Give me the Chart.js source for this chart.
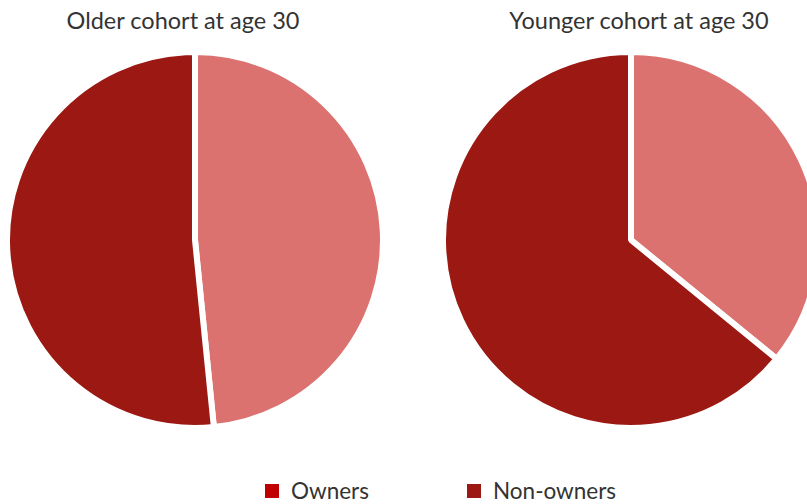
<!DOCTYPE html>
<html>
<head>
<meta charset="utf-8">
<script src="https://cdn.jsdelivr.net/npm/chart.js@4.4.1/dist/chart.umd.min.js"></script>
<style>
  html, body { margin: 0; padding: 0; background: #fff; overflow: hidden; }
  body { width: 807px; height: 504px; position: relative; font-family: Lato, "Open Sans", sans-serif; color: #333; }
  .title { position: absolute; top: 6px; font-size: 23.5px; white-space: nowrap; transform: translateX(-50%); }
  canvas { position: absolute; top: 50px; }
  #legend { position: absolute; top: 477px; left: 0; font-size: 22.5px; color: #333; }
  .item { position: absolute; white-space: nowrap; }
  .box { display: inline-block; width: 14px; height: 14px; margin-right: 12px; vertical-align: 1px; }
</style>
</head>
<body>
<div class="title" id="t1" style="left:183px"></div>
<div class="title" id="t2" style="left:639px"></div>
<canvas id="pieLeft" width="380" height="380" style="left:5px"></canvas>
<canvas id="pieRight" width="380" height="380" style="left:441px"></canvas>
<div id="legend"></div>
<script>
// categories and values (shares, %)
const categories = ['Owners', 'Non-owners'];
const chartTitles = ['Older cohort at age 30', 'Younger cohort at age 30'];
const olderValues = [48.4, 51.6];
const youngerValues = [35.9, 64.1];

const sliceColors = ['#db7270', '#9b1813'];
const legendColors = ['#c00000', '#9b1813'];
const legendX = [265, 467];

document.getElementById('t1').textContent = chartTitles[0];
document.getElementById('t2').textContent = chartTitles[1];

function makePie(id, values) {
  return new Chart(document.getElementById(id), {
    type: 'pie',
    data: {
      labels: categories,
      datasets: [{
        data: values,
        backgroundColor: sliceColors,
        borderColor: '#ffffff',
        borderWidth: 6,
        hoverOffset: 0
      }]
    },
    options: {
      responsive: false,
      animation: false,
      radius: 188,
      layout: { padding: 0 },
      plugins: {
        legend: { display: false },
        title: { display: false },
        tooltip: { enabled: false }
      }
    }
  });
}

makePie('pieLeft', olderValues);
makePie('pieRight', youngerValues);

// legend
const legend = document.getElementById('legend');
categories.forEach((name, i) => {
  const item = document.createElement('div');
  item.className = 'item';
  item.style.left = legendX[i] + 'px';
  const box = document.createElement('span');
  box.className = 'box';
  box.style.background = legendColors[i];
  item.appendChild(box);
  item.appendChild(document.createTextNode(name));
  legend.appendChild(item);
});
</script>
</body>
</html>
